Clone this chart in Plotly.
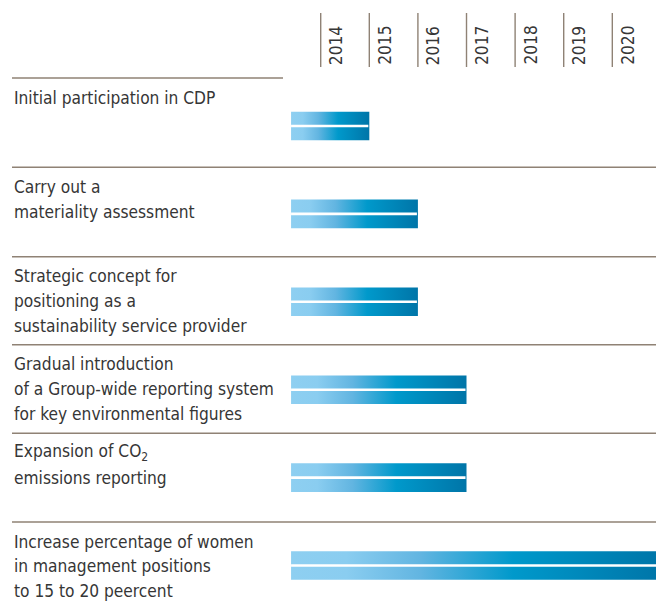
import plotly.graph_objects as go

# ---------------- data ----------------
labels = [
    ["Initial participation in CDP"],
    ["Carry out a", "materiality assessment"],
    ["Strategic concept for", "positioning as a", "sustainability service provider"],
    ["Gradual introduction", "of a Group-wide reporting system", "for key environmental figures"],
    ["Expansion of CO<sub>2</sub>", "emissions reporting"],
    ["Increase percentage of women", "in management positions", "to 15 to 20 peercent"],
]
bar_start = [2013.39, 2013.39, 2013.39, 2013.39, 2013.39, 2013.39]
bar_end = [2015, 2016, 2016, 2017, 2017, 2021]
years = [2014, 2015, 2016, 2017, 2018, 2019, 2020]

# ---------------- layout helpers ----------------
W, H = 656, 601
ROW0_PX, ROW_STEP = 126.0, 87.9          # pixel centre of row 0, px per row


def py(px):
    """pixel (from top) -> y-axis units (row index)"""
    return (px - ROW0_PX) / ROW_STEP


X_LO, X_HI = 2007.401, 2020.899          # x-axis range (years)
PX_PER_YEAR = W / (X_HI - X_LO)

FONT = "Liberation Sans Narrow, DejaVu Sans Condensed, Arial Narrow, sans-serif"
FS = 17.2
TXT = "#363636"
RULE = "#8f8275"
BAR_HALF = 14.3 / ROW_STEP
SEP_PX = [78, 167.3, 256.7, 344.7, 433.3, 522]

colorscale = [[0.0, "#8ecff1"], [0.15, "#8acdf0"], [0.35, "#62b5e1"],
              [0.6, "#0099cb"], [1.0, "#0075a8"]]

fig = go.Figure()

for i, (s, e) in enumerate(zip(bar_start, bar_end)):
    fig.add_trace(go.Scatter(
        x=[s, e, e, s, s],
        y=[i - BAR_HALF, i - BAR_HALF, i + BAR_HALF, i + BAR_HALF, i - BAR_HALF],
        mode="lines", line=dict(width=0), fill="toself",
        fillgradient=dict(type="horizontal", colorscale=colorscale),
        hoverinfo="skip", showlegend=False,
    ))
    fig.add_trace(go.Scatter(
        x=[s, e - 1.0 / PX_PER_YEAR], y=[i, i], mode="lines",
        line=dict(color="white", width=2.6),
        hoverinfo="skip", showlegend=False,
    ))

shapes = []
# separators
for k, sp in enumerate(SEP_PX):
    x1 = 283 / W if k == 0 else 1.0
    shapes.append(dict(type="line", xref="paper", yref="y",
                       x0=12 / W, x1=x1, y0=py(sp), y1=py(sp),
                       line=dict(color=RULE, width=1.6)))
# year tick lines
for yr in years:
    shapes.append(dict(type="line", xref="x", yref="y",
                       x0=yr, x1=yr, y0=py(13), y1=py(67),
                       line=dict(color=RULE, width=1.4)))

annotations = []
for yr in years:
    annotations.append(dict(x=yr, y=py(67), xref="x", yref="y",
                            text=str(yr), textangle=-90, showarrow=False,
                            xanchor="left", yanchor="bottom", xshift=3,
                            font=dict(family=FONT, size=FS, color=TXT)))
for k, lines in enumerate(labels):
    for j, t in enumerate(lines):
        annotations.append(dict(x=12 / W, y=py(SEP_PX[k] + 19.5 + 24.7 * j),
                                xref="paper", yref="y", text=t,
                                showarrow=False, xanchor="left", yanchor="middle",
                                font=dict(family=FONT, size=FS, color=TXT)))

fig.update_layout(
    width=W, height=H, margin=dict(l=0, r=0, t=0, b=0),
    paper_bgcolor="white", plot_bgcolor="white",
    xaxis=dict(range=[X_LO, X_HI], visible=False, fixedrange=True),
    yaxis=dict(range=[py(H), py(0)], visible=False, fixedrange=True),
    shapes=shapes, annotations=annotations, showlegend=False,
)

fig.write_html("out.html", config={"displayModeBar": False},
               post_script="document.body.style.margin='0';document.body.style.overflow='hidden';")
